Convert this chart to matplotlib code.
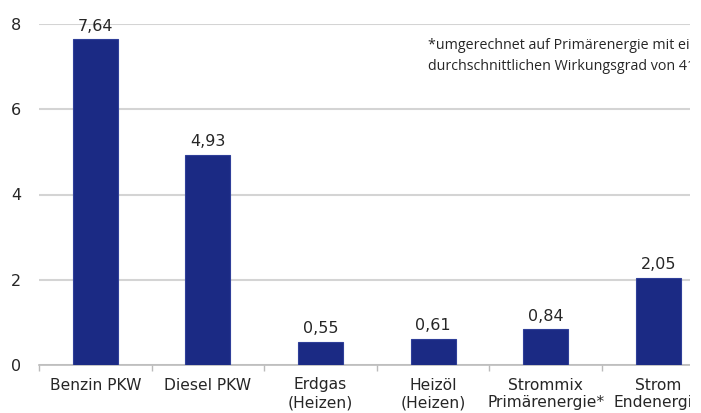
import matplotlib
matplotlib.use("Agg")
import matplotlib.pyplot as plt
from matplotlib.patches import Rectangle
import numpy as np

categories = ["Benzin PKW", "Diesel PKW", "Erdgas\n(Heizen)", "Heizöl\n(Heizen)",
              "Strommix\nPrimärenergie*", "Strom\nEndenergie"]
values = [7.64, 4.93, 0.55, 0.61, 0.84, 2.05]
value_labels = ["7,64", "4,93", "0,55", "0,61", "0,84", "2,05"]
yticks = [0, 2, 4, 6, 8]
note = "*umgerechnet auf Primärenergie mit einem\ndurchschnittlichen Wirkungsgrad von 41%"

plt.rcParams["font.family"] = ["DejaVu Sans"]

W, H = 701, 413
fig = plt.figure(figsize=(W / 100, H / 100), dpi=100)
left_px, right_px, top_px, bot_px = 39, 39 + 6 * 112.6, 24, 365
ax = fig.add_axes([left_px / W, 1 - bot_px / H, (right_px - left_px) / W, (bot_px - top_px) / H])

bar_color = "#1b2a84"
x = np.arange(len(categories))
ax.bar(x, values, width=0.40, color=bar_color, edgecolor="#2f3f99", linewidth=0.8, zorder=3)

txt_color = "#262626"
for xi, v, lab in zip(x, values, value_labels):
    ax.annotate(lab, (xi, v), xytext=(0, 4), textcoords="offset points",
                ha="center", va="bottom", fontsize=11.5, color=txt_color, fontweight="medium")

ax.set_xlim(-0.5, len(categories) - 0.5)
ax.set_ylim(0, 8)
ax.set_yticks(yticks)
ax.set_yticklabels([str(t) for t in yticks], fontsize=11.5, color=txt_color)
ax.tick_params(axis="y", length=0, pad=13)
ax.yaxis.grid(True, color="#d4d4d4", linewidth=1.5, zorder=0)
ax.set_axisbelow(True)

ax.set_xticks(x)
ax.set_xticklabels(categories, fontsize=11.2, color=txt_color, linespacing=1.25)
ax.tick_params(axis="x", length=0, pad=9)
ax.set_xticks(np.arange(-0.5, len(categories), 1.0), minor=True)
ax.tick_params(axis="x", which="minor", length=4, color="#bbbbbb", width=1)

for s in ["top", "right", "left"]:
    ax.spines[s].set_visible(False)
ax.spines["bottom"].set_color("#bbbbbb")
ax.spines["bottom"].set_linewidth(1.2)

fig.text(428 / W, 1 - 56 / H, note, fontsize=10.3, family="Open Sans", color=txt_color,
         ha="left", va="center", linespacing=1.55)

# crop the right edge like the reference screenshot
fig.add_artist(Rectangle((690 / W, 0), 1, 1, transform=fig.transFigure,
                         facecolor="white", edgecolor="none", zorder=100))

fig.savefig("out.png", dpi=100)
